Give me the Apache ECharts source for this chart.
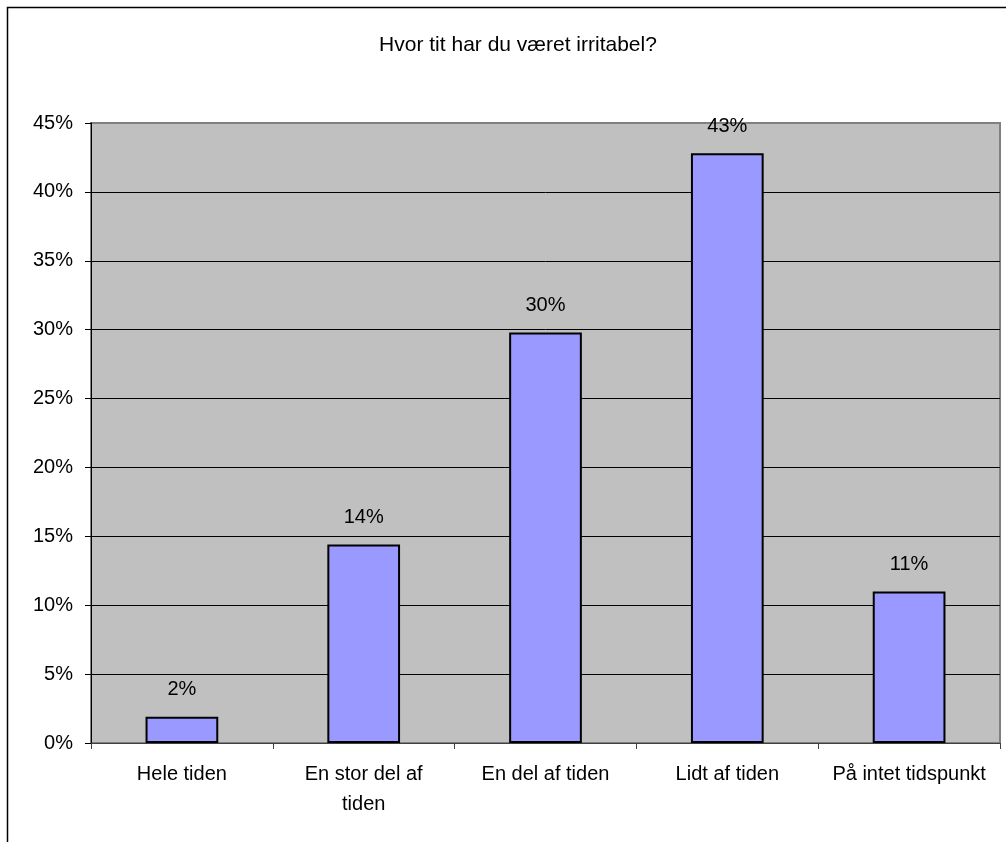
<!DOCTYPE html>
<html>
<head>
<meta charset="utf-8">
<script src="https://cdn.jsdelivr.net/npm/echarts@6/dist/echarts.min.js"></script>
<style>
html,body{margin:0;padding:0;background:#fff;}
#chart{width:1006px;height:842px;}
</style>
</head>
<body>
<div id="chart"></div>
<script>
const titleText = 'Hvor tit har du været irritabel?';
const categories = ['Hele tiden', 'En stor del af\ntiden', 'En del af tiden', 'Lidt af tiden', 'På intet tidspunkt'];
const values = [1.9, 14.4, 29.8, 42.8, 11.0];

const chart = echarts.init(document.getElementById('chart'));
const font = 'Arial, "Liberation Sans", sans-serif';
chart.setOption({
  animation: false,
  backgroundColor: '#ffffff',
  graphic: [{
    type: 'rect',
    shape: { x: 7.5, y: 7.5, width: 1100, height: 900 },
    style: { fill: 'none', stroke: '#000', lineWidth: 1.5 },
    z: 0
  }],
  title: {
    text: titleText,
    left: 513,
    top: 30,
    textAlign: 'center',
    textStyle: { fontFamily: font, fontSize: 21, fontWeight: 'normal', color: '#000' }
  },
  grid: {
    left: 91, right: 6, top: 123, bottom: 99,
    show: true,
    backgroundColor: '#C0C0C0',
    borderColor: '#808080',
    borderWidth: 2
  },
  xAxis: {
    type: 'category',
    data: categories,
    axisLine: { lineStyle: { color: '#404040', width: 1 } },
    axisTick: { show: true, length: 6, interval: 0, lineStyle: { color: '#404040' } },
    axisLabel: { interval: 0, color: '#000', fontFamily: font, fontSize: 20, lineHeight: 30, margin: 16 }
  },
  yAxis: {
    type: 'value',
    min: 0, max: 45, interval: 5,
    axisLine: { show: true, lineStyle: { color: '#000', width: 1 } },
    axisTick: { show: true, length: 6, lineStyle: { color: '#000' } },
    axisLabel: { formatter: '{value}%', color: '#000', fontFamily: font, fontSize: 20, margin: 18 },
    splitLine: { show: true, lineStyle: { color: ['#000','#000','#000','#000','#000','#000','#000','#000','#000','#808080'], width: 1 } }
  },
  series: [{
    type: 'bar',
    data: values,
    barCategoryGap: '60%',
    itemStyle: { color: '#9999FF', borderColor: '#000', borderWidth: 2 },
    label: {
      show: true,
      position: 'top',
      distance: 17,
      color: '#000',
      fontFamily: font,
      fontSize: 20,
      formatter: p => Math.round(p.value) + '%'
    }
  }]
});
</script>
</body>
</html>
